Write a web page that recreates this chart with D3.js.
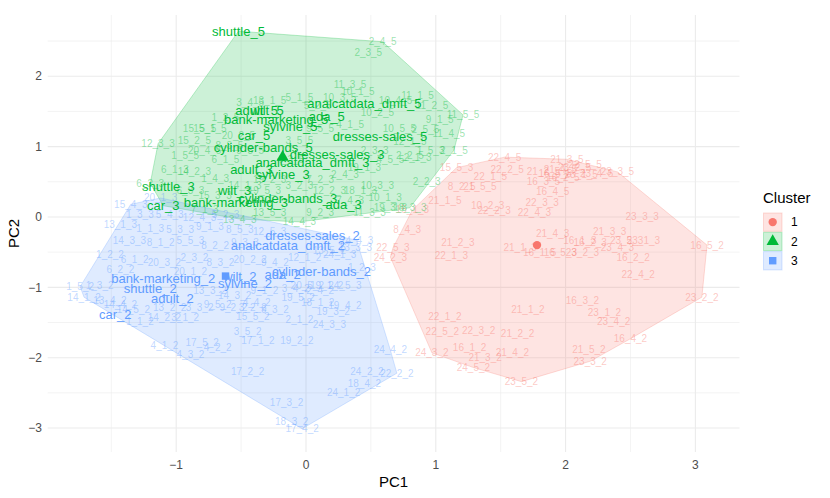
<!DOCTYPE html>
<html><head><meta charset="utf-8">
<script src="https://cdn.jsdelivr.net/npm/d3@7"></script>
<style>body{margin:0;background:#fff} text{font-family:"Liberation Sans",Arial,Helvetica,sans-serif}</style>
</head><body><svg id="chart" width="830" height="498"></svg>
<script>
// ---- data ----
const clusterNames = ["1", "2", "3"];
const clusterColors = ["#F8766D", "#00BA38", "#619CFF"];
const xTicks = [-1, 0, 1, 2, 3];
const yTicks = [-3, -2, -1, 0, 1, 2];

const c1Labels = ["24_2_3","22_5_3","8_4_3","15_1_3","15_5_3","22_4_5","21_3_5","23_3_5","16_5_2","23_2_2","16_4_2","23_3_2","23_5_2","24_5_2","24_3_2","22_2_5","21_2_5","22_1_5","16_3_5","16_4_5","8_2_5","21_5_5","21_1_5","10_2_3","22_2_3","22_3_3","22_4_3","21_2_3","22_1_3","21_4_3","21_1_3","16_1_5","16_5_3","21_4_5","23_2_5","22_5_5","16_2_5","23_4_5","23_1_5","16_5_5","23_3_3","21_3_3","16_1_3","16_2_3","23_5_3","23_1_3","23_4_3","23_2_3","16_2_2","22_4_2","16_3_2","23_1_2","23_4_2","21_5_2","21_1_2","22_1_2","22_5_2","22_3_2","21_2_2","16_1_2","21_3_2","21_4_2"];
const c1PC1 = [0.65,0.67,0.78,0.82,1.16,1.53,2.01,2.40,3.09,3.05,2.50,2.19,1.66,1.29,0.97,1.55,1.83,1.42,1.83,1.90,1.20,1.34,1.07,1.40,1.45,1.82,1.76,1.17,1.12,1.90,1.65,1.80,1.96,1.96,2.07,2.15,1.98,2.24,2.12,1.92,2.59,2.34,2.11,2.19,2.47,2.60,2.40,2.13,2.52,2.56,2.13,2.30,2.37,2.18,1.71,1.07,1.05,1.33,1.63,1.26,1.38,1.59];
const c1PC2 = [-0.57,-0.44,-0.18,0.10,0.70,0.85,0.82,0.64,-0.40,-1.14,-1.73,-2.05,-2.34,-2.14,-1.93,0.67,0.64,0.58,0.50,0.36,0.43,0.43,0.24,0.16,0.09,0.21,0.07,-0.36,-0.55,-0.23,-0.43,-0.51,-0.50,0.67,0.70,0.74,0.56,0.62,0.60,0.62,0.00,-0.21,-0.33,-0.36,-0.33,-0.33,-0.43,-0.50,-0.58,-0.82,-1.18,-1.36,-1.48,-1.88,-1.31,-1.41,-1.63,-1.62,-1.66,-1.85,-1.99,-1.93];

const c2Labels = ["shuttle_5","adult_5","wilt_5","analcatdata_dmft_5","bank-marketing_5","ada_5","sylvine_5","car_5","dresses-sales_5","cylinder-bands_5","dresses-sales_3","analcatdata_dmft_3","adult_3","sylvine_3","shuttle_3","wilt_3","cylinder-bands_3","car_3","bank-marketing_3","ada_3",
"2_4_5","2_3_5","11_3_5","10_1_5","11_1_5","11_2_5","10_2_5","11_5_5","2_5_5","11_4_5","2_1_5","2_2_5","2_2_3","2_1_3","18_3_3","19_3_3","11_3_3","10_3_3","12_3_3","6_2_3","13_4_3","14_4_3",
"3_4_5","13_1_5","5_1_5","5_2_5","10_3_5","10_4_5","15_1_5","1_2_5","20_2_5","3_5_5","9_5_5","4_1_5","10_5_5","12_1_5","9_1_5","1_5_3","15_2_5","1_5_5","20_4_5","6_1_5","6_1_3","14_2_3","1_4_3","6_3_3","15_3_3","7_1_3","19_5_3","3_2_3","7_2_3","2_4_3","19_1_3","4_5_5","2_3_3","18_1_3","12_2_3","10_1_3","13_5_3","9_2_3","7_4_3","9_3_5","8_3_5","4_3_5","19_2_3","14_1_3","15_5_5"];
const c2PC1 = [-0.52,-0.38,-0.30,0.45,-0.23,0.16,-0.12,-0.40,0.57,-0.33,0.24,0.05,-0.42,-0.18,-1.06,-0.55,-0.14,-1.10,-0.54,0.29,
0.59,0.48,0.34,0.40,0.86,0.97,0.55,1.21,0.92,1.10,1.14,0.80,0.93,0.86,0.80,0.65,0.49,0.55,-1.14,-1.20,-0.51,-0.05,
-0.43,-0.28,-0.05,0.09,0.26,0.69,-0.74,-0.62,-0.52,-0.05,0.11,0.34,0.72,0.80,1.03,0.96,-0.86,-0.93,-0.78,-0.62,-1.01,-0.86,-0.70,-0.89,-0.70,-0.78,-0.32,-0.05,0.11,0.30,0.45,0.65,0.53,0.42,0.18,0.61,-0.28,0.11,0.34,-0.43,-0.59,-0.12,-0.28,-0.47,-0.82];
const c2PC2 = [2.64,1.51,1.51,1.62,1.38,1.43,1.28,1.16,1.14,0.99,0.89,0.77,0.67,0.60,0.43,0.37,0.27,0.16,0.20,0.18,
2.49,2.34,1.88,1.78,1.73,1.58,1.48,1.45,1.24,1.18,0.95,0.88,0.50,0.84,0.13,0.14,0.06,0.45,1.04,0.48,-0.03,-0.07,
1.62,1.66,1.70,1.58,1.70,1.66,1.26,1.41,1.16,1.09,1.26,1.31,1.26,1.07,1.38,0.95,1.09,0.88,0.95,0.81,0.67,0.64,0.55,0.38,0.31,0.10,0.38,0.45,0.53,0.60,0.70,0.81,0.95,0.38,0.38,0.27,0.07,0.07,0.24,0.95,1.02,0.81,0.53,0.45,1.26];

const c3Labels = ["bank-marketing_2","shuttle_2","adult_2","car_2","wilt_2","sylvine_2","analcatdata_dmft_2","dresses-sales_2","cylinder-bands_2","ada_2",
"15_4_3","20_1_3","24_4_3","22_2_2","17_4_2","14_1_2","1_5_2","24_4_2","24_2_2","18_4_2","24_1_2","17_3_2","18_3_2","17_2_2","3_5_2","17_1_2","19_2_2","17_5_2","4_1_2","4_3_2","4_2_2","15_5_2","18_1_2","19_3_2","19_4_2","9_5_2","9_2_2","3_2_2","4_4_2","14_5_2","1_1_2","14_2_2","3_1_2","13_2_2","3_3_2","19_5_2","19_1_2","24_5_3","20_5_2","1_2_3","13_3_3",
"1_3_3","5_4_3","12_4_3","5_2_3","13_1_3","1_1_3","5_3_3","9_1_3","8_5_3","14_3_3","8_1_2","5_5_3","8_2_2","9_3_3","12_5_3","1_2_2","6_1_2","20_3_2","2_3_2","8_3_2","20_2_2","9_4_2","6_2_2","20_1_2","1_3_2","13_3_2","14_3_2","9_1_2","3_4_2","2_4_2","13_4_2","9_3_2","2_1_2","24_3_3","14_4_2","24_1_3","12_1_2","13_5_2"];
const c3PC1 = [-1.10,-1.20,-1.03,-1.47,-0.51,-0.47,-0.14,0.05,0.12,-0.18,
-1.35,-1.12,0.39,0.70,-0.03,-1.71,-1.74,0.65,0.47,0.45,0.29,-0.15,-0.11,-0.45,-0.45,-0.37,-0.07,-0.80,-1.09,-0.89,-0.68,-0.41,0.09,0.21,0.30,-0.68,-0.56,-0.41,-0.38,-1.33,-1.28,-1.09,-0.93,-1.05,-0.82,-0.06,0.16,0.30,0.01,0.43,0.38,
-1.28,-1.05,-0.82,-0.62,-1.43,-1.20,-0.97,-0.74,-0.51,-1.36,-1.12,-0.89,-0.70,-0.47,-0.28,-1.51,-1.32,-1.09,-0.86,-0.66,-0.43,-0.24,-1.43,-0.89,-1.59,-0.74,-0.55,-0.32,-0.08,0.11,-1.51,-0.24,-0.05,0.18,-1.43,0.26,-0.01,0.18];
const c3PC2 = [-0.88,-1.01,-1.16,-1.39,-0.85,-0.95,-0.41,-0.26,-0.78,-0.82,
0.18,0.27,-0.33,-2.22,-3.01,-1.14,-0.99,-1.89,-2.20,-2.36,-2.49,-2.63,-2.90,-2.20,-1.63,-1.75,-1.75,-1.78,-1.83,-1.95,-1.85,-1.42,-1.22,-1.35,-1.26,-1.25,-1.29,-1.29,-1.21,-1.32,-1.49,-1.43,-1.43,-1.29,-1.29,-1.14,-0.97,-0.97,-0.97,-0.72,-0.44,
0.04,0.03,-0.01,0.04,-0.11,-0.16,-0.18,-0.13,-0.18,-0.33,-0.36,-0.33,-0.40,-0.36,-0.21,-0.54,-0.61,-0.64,-0.58,-0.64,-0.61,-0.64,-0.75,-0.78,-0.97,-1.04,-1.11,-1.04,-1.01,-1.04,-1.18,-1.32,-1.46,-1.53,-1.25,-0.54,-0.58,-0.47];

const centerPC1 = [1.78, -0.18, -0.62];
const centerPC2 = [-0.40, 0.85, -0.84];

// ---- build ----
const svg = d3.select("#chart");
const W = 830, H = 498;
svg.append("rect").attr("width", W).attr("height", H).attr("fill", "#fff");

const x = d3.scaleLinear().domain([-1.99, 3.34]).range([47.7, 739.5]);
const y = d3.scaleLinear().domain([-3.34, 2.87]).range([452, 15]);
const [px0, px1] = x.range();
const [py1, py0] = y.range();

const groups = [
  {labels: c1Labels, pc1: c1PC1, pc2: c1PC2},
  {labels: c2Labels, pc1: c2PC1, pc2: c2PC2},
  {labels: c3Labels, pc1: c3PC1, pc2: c3PC2}
];
const points = [];
groups.forEach((g, ci) => g.labels.forEach((lab, i) => points.push({label: lab, pc1: g.pc1[i], pc2: g.pc2[i], cluster: ci})));

// grid
const grid = svg.append("g");
const minorX = [-1.5, -0.5, 0.5, 1.5, 2.5];
const minorY = [-2.5, -1.5, -0.5, 0.5, 1.5, 2.5];
minorX.forEach(v => grid.append("line").attr("x1", x(v)).attr("x2", x(v)).attr("y1", py0).attr("y2", py1).attr("stroke", "#ebebeb").attr("stroke-width", 0.6));
minorY.forEach(v => grid.append("line").attr("y1", y(v)).attr("y2", y(v)).attr("x1", px0).attr("x2", px1).attr("stroke", "#ebebeb").attr("stroke-width", 0.6));
xTicks.forEach(v => grid.append("line").attr("x1", x(v)).attr("x2", x(v)).attr("y1", py0).attr("y2", py1).attr("stroke", "#ebebeb").attr("stroke-width", 1.1));
yTicks.forEach(v => grid.append("line").attr("y1", y(v)).attr("y2", y(v)).attr("x1", px0).attr("x2", px1).attr("stroke", "#ebebeb").attr("stroke-width", 1.1));

// hulls
groups.forEach((g, ci) => {
  const pts = g.labels.map((_, i) => [x(g.pc1[i]), y(g.pc2[i])]);
  const hull = d3.polygonHull(pts);
  svg.append("path").attr("d", "M" + hull.join("L") + "Z")
    .attr("fill", clusterColors[ci]).attr("fill-opacity", 0.2)
    .attr("stroke", clusterColors[ci]).attr("stroke-opacity", 0.25).attr("stroke-width", 1);
});

const isMain = l => /^[a-z]/.test(l);
// faint labels
svg.append("g").selectAll("text").data(points.filter(p => !isMain(p.label))).join("text")
  .attr("x", d => x(d.pc1)).attr("y", d => y(d.pc2)).attr("dy", "0.35em")
  .attr("text-anchor", "middle").attr("font-size", 10)
  .attr("fill", d => clusterColors[d.cluster]).attr("fill-opacity", 0.4)
  .text(d => d.label);
// main labels
svg.append("g").selectAll("text").data(points.filter(p => isMain(p.label))).join("text")
  .attr("x", d => x(d.pc1)).attr("y", d => y(d.pc2)).attr("dy", "0.35em")
  .attr("text-anchor", "middle").attr("font-size", 13)
  .attr("fill", d => clusterColors[d.cluster])
  .text(d => d.label);

// centers
const symTypes = [d3.symbolCircle, d3.symbolTriangle, d3.symbolSquare];
const symSizes = [55, 65, 55];
centerPC1.forEach((cx, i) => {
  svg.append("path").attr("d", d3.symbol().type(symTypes[i]).size(symSizes[i])())
    .attr("transform", `translate(${x(cx)},${y(centerPC2[i])})`)
    .attr("fill", clusterColors[i]);
});

// axes labels
const fmt = d3.format("d");
xTicks.forEach(v => svg.append("text").attr("x", x(v)).attr("y", 469).attr("text-anchor", "middle")
  .attr("font-size", 12).attr("fill", "#4d4d4d").text(fmt(v)));
yTicks.forEach(v => svg.append("text").attr("x", 42).attr("y", y(v)).attr("dy", "0.35em").attr("text-anchor", "end")
  .attr("font-size", 12).attr("fill", "#4d4d4d").text(fmt(v)));
svg.append("text").attr("x", (px0 + px1) / 2).attr("y", 487).attr("text-anchor", "middle")
  .attr("font-size", 15).attr("fill", "#000").text("PC1");
svg.append("text").attr("transform", `translate(19,${(py0 + py1) / 2}) rotate(-90)`).attr("text-anchor", "middle")
  .attr("font-size", 15).attr("fill", "#000").text("PC2");

// legend
const lg = svg.append("g");
lg.append("text").attr("x", 763).attr("y", 203).attr("font-size", 15).attr("fill", "#000").text("Cluster");
clusterNames.forEach((n, i) => {
  const top = 212.5 + i * 19.3;
  lg.append("rect").attr("x", 763.5).attr("y", top + 0.5).attr("width", 18.5).attr("height", 18.3)
    .attr("fill", clusterColors[i]).attr("fill-opacity", 0.2)
    .attr("stroke", clusterColors[i]).attr("stroke-opacity", 0.25);
  lg.append("path").attr("d", d3.symbol().type(symTypes[i]).size(symSizes[i])())
    .attr("transform", `translate(772.7,${top + 9.6})`).attr("fill", clusterColors[i]);
  lg.append("text").attr("x", 791).attr("y", top + 9.6).attr("dy", "0.35em").attr("font-size", 12)
    .attr("fill", "#000").text(n);
});
</script></body></html>
